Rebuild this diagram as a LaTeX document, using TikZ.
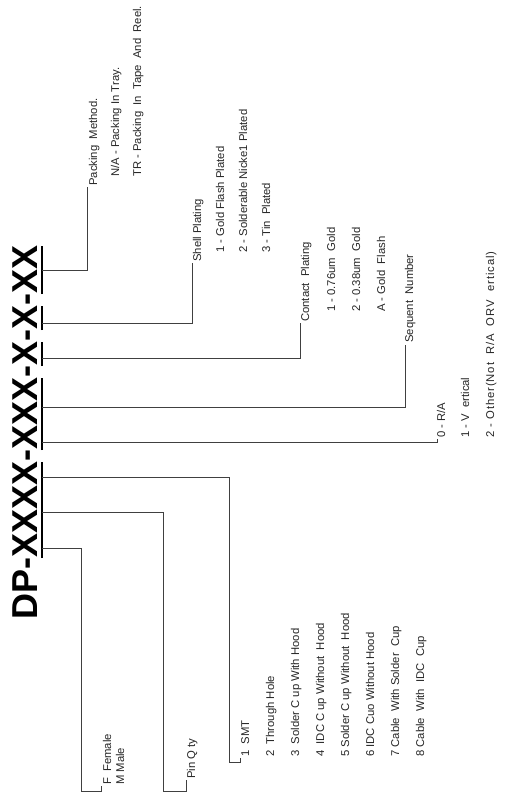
\documentclass[tikz,border=0pt]{standalone}
\usepackage{fontspec}
\setmainfont{Liberation Sans}
\begin{document}
\begin{tikzpicture}[x=1pt,y=-1pt,
  lab/.style={rotate=90,anchor=base west,inner sep=0pt,font=\fontsize{11.3}{13}\selectfont,text=black!85},
  conn/.style={draw=black!75,line width=0.9pt},
  uline/.style={draw=black,line width=1.7pt}]
\useasboundingbox (0,0) rectangle (505,799);
% title
\node[rotate=90,anchor=base west,inner sep=0pt,font=\fontsize{36}{40}\selectfont\bfseries] (title) at (37,620) {DP-XXXX-XXX-X-X-XX};
% underlines of the groups
\coordinate (u4a) at (42,558); \coordinate (u4b) at (42,462);
\coordinate (u3a) at (42,450); \coordinate (u3b) at (42,378);
\coordinate (u2a) at (42,366); \coordinate (u2b) at (42,342);
\coordinate (u1a) at (42,330); \coordinate (u1b) at (42,306);
\coordinate (u0a) at (42,294); \coordinate (u0b) at (42,246);
\draw[uline] (u4a) -- (u4b); \draw[uline] (u3a) -- (u3b);
\draw[uline] (u2a) -- (u2b); \draw[uline] (u1a) -- (u1b);
\draw[uline] (u0a) -- (u0b);
% attachment points
\coordinate (aPack) at (42,270);
\coordinate (aShell) at (42,323);
\coordinate (aCont) at (42,358);
\coordinate (aSeq) at (42,407);
\coordinate (aRA) at (42,442);
\coordinate (aSMT) at (42,477);
\coordinate (aPin) at (42,512);
\coordinate (aF) at (42,548);
% labels
\node[lab] (pm) at (97,186) {Packing~ Method.};
\node[lab] (pm1) at (119,177) {N/A - Packing In Tray.};
\node[lab] (pm2) at (141,177) {TR - Packing~ In~ Tape~ And~ Reel.};
\node[lab] (sp) at (201,262) {Shell Plating};
\node[lab] (sp1) at (224,253) {1 - Gold Flash Plated};
\node[lab] (sp2) at (247,253) {2 - Solderable Nicke1 Plated};
\node[lab] (sp3) at (270,253) {3 - Tin~ Plated};
\node[lab] (cp) at (309,322) {Contact~ Plating};
\node[lab] (cp1) at (335,312) {1 - 0.76um~ Gold};
\node[lab] (cp2) at (360,312) {2 - 0.38um~ Gold};
\node[lab] (cp3) at (385,312) {A - Gold~ Flash};
\node[lab] (sn) at (413,343) {Sequent~ Number};
\node[lab] (ra0) at (445,438) {0 - R/A};
\node[lab] (ra1) at (469,438) {1 - V~ ertical};
\node[lab] (ra2) at (494,438) {\addfontfeature{LetterSpace=8}2 - Other(Not~ R/A~ ORV~ ertical)};
\node[lab] (ff) at (111,785) {F~ Female};
\node[lab] (fm) at (124,785) {M Male};
\node[lab] (pq) at (195,779) {Pin Q ty};
\node[lab] (t1) at (249,757) {1~ SMT};
\node[lab] (t2) at (274,757) {2~ Through Hole};
\node[lab] (t3) at (299,757) {3~ Solder C up With Hood};
\node[lab] (t4) at (324,757) {4~ IDC C up Without~ Hood};
\node[lab] (t5) at (349,757) {5 Solder C up Without~ Hood};
\node[lab] (t6) at (374,757) {6 IDC Cuo Without Hood};
\node[lab] (t7) at (399,757) {7 Cable~ With Solder~ Cup};
\node[lab] (t8) at (424,757) {8 Cable~ With~ IDC~ Cup};
% bend points
\coordinate (bPack) at (87,270); \coordinate (ePack) at (87,187);
\coordinate (bShell) at (192,323); \coordinate (eShell) at (192,263);
\coordinate (bCont) at (300,358); \coordinate (eCont) at (300,323);
\coordinate (bSeq) at (405,407); \coordinate (eSeq) at (405,345);
\coordinate (bRA) at (437,442); \coordinate (eRA) at (437,439);
\coordinate (bSMT) at (229,477); \coordinate (cSMT) at (229,762); \coordinate (dSMT) at (240,762); \coordinate (eSMT) at (240,758);
\coordinate (bPin) at (163,512); \coordinate (cPin) at (163,791); \coordinate (dPin) at (186,791); \coordinate (ePin) at (186,780);
\coordinate (bF) at (81,548); \coordinate (cF) at (81,791); \coordinate (dF) at (101,791); \coordinate (eF) at (101,786);
% connectors
\draw[conn] (aPack) -- (bPack) -- (ePack);
\draw[conn] (aShell) -- (bShell) -- (eShell);
\draw[conn] (aCont) -- (bCont) -- (eCont);
\draw[conn] (aSeq) -- (bSeq) -- (eSeq);
\draw[conn] (aRA) -- (bRA) -- (eRA);
\draw[conn] (aSMT) -- (bSMT) -- (cSMT) -- (dSMT) -- (eSMT);
\draw[conn] (aPin) -- (bPin) -- (cPin) -- (dPin) -- (ePin);
\draw[conn] (aF) -- (bF) -- (cF) -- (dF) -- (eF);
\end{tikzpicture}
\end{document}
